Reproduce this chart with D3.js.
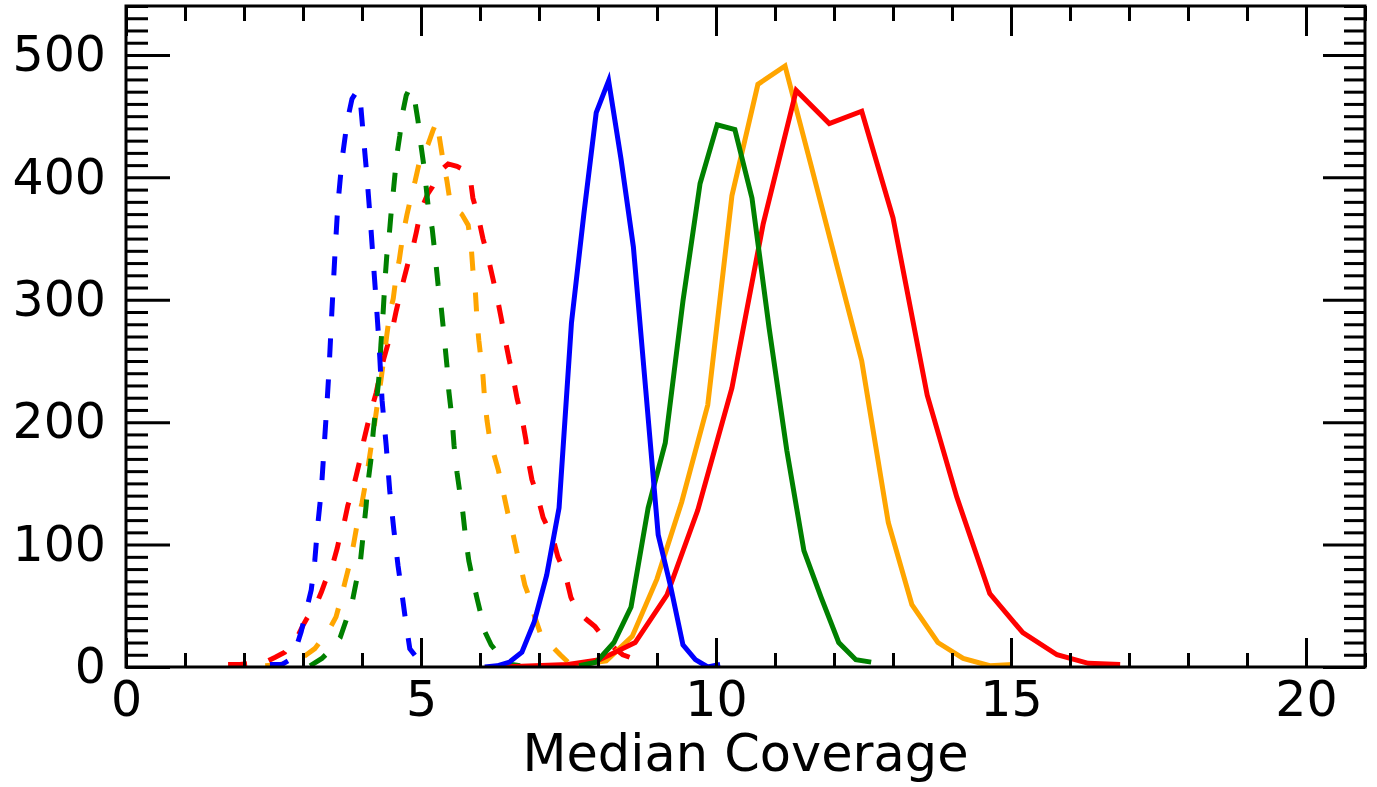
<!DOCTYPE html>
<html>
<head>
<meta charset="utf-8">
<script src="https://cdn.jsdelivr.net/npm/d3@7"></script>
<style>
	body { margin: 0; background: #fff; }
	svg text { font-family: "DejaVu Sans", sans-serif; fill: #000; }
</style>
</head>
<body>
<div id="chart"></div>
<script>
//coverage histograms, solid and dashed runs

//solid curves
var blueSolidX = [6.08, 6.29, 6.50, 6.71, 6.92, 7.13, 7.34, 7.55, 7.76, 7.97, 8.18, 8.39, 8.60, 8.81, 9.02, 9.23, 9.44, 9.65, 9.86, 10.07];
var blueSolidY = [0, 1, 4, 12, 37, 75, 130, 281, 370, 453, 479, 415, 343, 226, 108, 66, 18, 6, 0, 2];

var greenSolidX = [7.68, 7.97, 8.27, 8.56, 8.85, 9.14, 9.44, 9.73, 10.02, 10.32, 10.61, 10.90, 11.20, 11.49, 11.78, 12.08, 12.37, 12.63];
var greenSolidY = [1, 4, 20, 49, 130, 183, 299, 395, 443, 439, 383, 277, 177, 95, 57, 20, 6, 4];

var orangeSolidX = [7.27, 7.69, 8.14, 8.58, 9.00, 9.42, 9.86, 10.27, 10.71, 11.17, 11.61, 12.05, 12.47, 12.92, 13.32, 13.76, 14.19, 14.64, 15.03];
var orangeSolidY = [1, 2, 5, 25, 72, 135, 214, 385, 476, 491, 410, 328, 250, 118, 51, 20, 7, 1, 2];

var redSolidX = [6.37, 6.93, 7.49, 8.03, 8.63, 9.17, 9.69, 10.27, 10.80, 11.36, 11.92, 12.47, 13.00, 13.58, 14.08, 14.64, 15.20, 15.78, 16.31, 16.85];
var redSolidY = [0, 1, 2, 6, 20, 59, 128, 228, 362, 471, 444, 454, 367, 222, 139, 60, 28, 10, 3, 2];

//dashed curves
var blueDashX = [2.44, 2.64, 2.78, 2.88, 2.97, 3.05, 3.14, 3.20, 3.25, 3.31, 3.36, 3.41, 3.44, 3.49, 3.54, 3.59, 3.66, 3.75, 3.83, 3.92,
	3.98, 4.03, 4.08, 4.14, 4.19, 4.24, 4.29, 4.34, 4.41, 4.47, 4.54, 4.61, 4.68, 4.75, 4.81, 4.92, 5.02, 5.20];
var blueDashY = [2, 2, 6, 15, 29, 45, 63, 87, 116, 144, 181, 218, 242, 291, 336, 377, 414, 446, 464, 471,
	458, 430, 403, 366, 332, 299, 263, 218, 181, 144, 112, 83, 59, 34, 15, 8, 4, 2];

var greenDashX = [3.12, 3.32, 3.49, 3.63, 3.73, 3.83, 3.90, 3.97, 4.02, 4.07, 4.10, 4.15, 4.19, 4.24, 4.29, 4.32, 4.36, 4.39, 4.42, 4.46,
	4.49, 4.54, 4.59, 4.64, 4.69, 4.75, 4.81, 4.88, 4.95, 5.00, 5.05, 5.12, 5.19, 5.24, 5.29, 5.34, 5.39, 5.44, 5.47, 5.53,
	5.56, 5.61, 5.66, 5.71, 5.76, 5.81, 5.88, 5.95, 6.02, 6.08, 6.19, 6.29, 6.41, 6.54, 6.68];
var greenDashY = [1, 7, 15, 24, 38, 52, 69, 85, 108, 132, 150, 169, 192, 214, 238, 263, 291, 316, 336, 352,
	369, 393, 418, 434, 453, 467, 473, 467, 446, 426, 409, 377, 358, 336, 312, 295, 271, 246, 226, 201,
	181, 159, 142, 126, 104, 87, 71, 56, 42, 29, 18, 12, 7, 2, 1];

var orangeDashX = [2.36, 2.61, 2.83, 3.03, 3.20, 3.34, 3.46, 3.56, 3.64, 3.71, 3.80, 3.86, 3.93, 4.00, 4.07, 4.12, 4.17, 4.22, 4.27, 4.32,
	4.37, 4.42, 4.47, 4.53, 4.58, 4.63, 4.69, 4.76, 4.83, 4.90, 4.98, 5.12, 5.20, 5.27, 5.32, 5.37, 5.44, 5.49, 5.58, 5.69,
	5.80, 5.85, 5.88, 5.92, 5.95, 5.98, 6.02, 6.05, 6.08, 6.12, 6.17, 6.24, 6.31, 6.39, 6.47, 6.54, 6.63, 6.69, 6.76, 6.85,
	6.92, 7.02, 7.14, 7.24, 7.36, 7.49, 7.69, 7.86];
var orangeDashY = [1, 2, 4, 9, 15, 24, 32, 41, 55, 69, 86, 101, 120, 134, 153, 169, 185, 201, 218, 234,
	252, 271, 289, 301, 320, 332, 352, 369, 384, 397, 414, 427, 438, 446, 430, 415, 397, 381, 374, 370,
	361, 344, 324, 308, 283, 267, 250, 238, 218, 201, 185, 173, 161, 144, 126, 113, 93, 82, 67, 55,
	42, 28, 22, 16, 10, 4, 3, 3];

var redDashX = [1.73, 1.93, 2.14, 2.36, 2.53, 2.69, 2.81, 2.90, 3.00, 3.07, 3.15, 3.24, 3.31, 3.37, 3.44, 3.51, 3.58, 3.63, 3.69, 3.76,
	3.83, 3.90, 3.97, 4.03, 4.10, 4.17, 4.24, 4.31, 4.37, 4.44, 4.51, 4.58, 4.64, 4.71, 4.78, 4.85, 4.92, 4.98, 5.05, 5.12,
	5.19, 5.25, 5.32, 5.46, 5.61, 5.78, 5.83, 5.88, 5.97, 6.05, 6.14, 6.22, 6.29, 6.36, 6.42, 6.49, 6.56, 6.63, 6.71, 6.78,
	6.81, 6.88, 6.98, 7.07, 7.15, 7.22, 7.32, 7.44, 7.54, 7.66, 7.80, 7.95, 8.03, 8.15, 8.29, 8.42, 8.59, 8.76];
var redDashY = [2, 2, 3, 4, 8, 12, 20, 24, 34, 40, 46, 53, 61, 69, 77, 85, 97, 108, 116, 132,
	142, 156, 170, 185, 199, 212, 224, 240, 252, 264, 275, 291, 303, 317, 330, 340, 355, 369, 379, 387,
	392, 399, 405, 411, 409, 405, 401, 383, 368, 350, 334, 317, 302, 285, 269, 252, 237, 219, 204, 185,
	171, 153, 139, 122, 114, 108, 90, 77, 57, 45, 39, 33, 28, 22, 15, 10, 7, 6];

//axis setup
var xDomain = [0, 21];
var yDomain = [0, 540];
var xMajorTicks = [0, 5, 10, 15, 20];
var yMajorTicks = [0, 100, 200, 300, 400, 500];
var xLabel = "Median Coverage";

//draw order: dashed first, then solid
var series = [
	{ x: redDashX, y: redDashY, color: "#ff0000", dashed: true },
	{ x: orangeDashX, y: orangeDashY, color: "#ffa500", dashed: true },
	{ x: greenDashX, y: greenDashY, color: "#008000", dashed: true },
	{ x: blueDashX, y: blueDashY, color: "#0000ff", dashed: true },
	{ x: orangeSolidX, y: orangeSolidY, color: "#ffa500", dashed: false },
	{ x: redSolidX, y: redSolidY, color: "#ff0000", dashed: false },
	{ x: greenSolidX, y: greenSolidY, color: "#008000", dashed: false },
	{ x: blueSolidX, y: blueSolidY, color: "#0000ff", dashed: false }
];

//define dimensions
var width = 1377, height = 787;
var margin = { top: 6, right: 12, bottom: 120, left: 126 };
var w = width - margin.left - margin.right;
var h = height - margin.top - margin.bottom;

var svg = d3.select("#chart").append("svg")
	.attr("width", width)
	.attr("height", height);

var plot = svg.append("g")
	.attr("transform", "translate(" + margin.left + "," + margin.top + ")");

var x = d3.scaleLinear().domain(xDomain).range([0, w]);
var y = d3.scaleLinear().domain(yDomain).range([h, 0]);

//clip the curves to the frame
plot.append("defs").append("clipPath")
	.attr("id", "plotclip")
  .append("rect")
	.attr("width", w)
	.attr("height", h);

var line = d3.line()
	.x(function(d) { return x(d[0]); })
	.y(function(d) { return y(d[1]); });

var curves = plot.append("g").attr("clip-path", "url(#plotclip)");

series.forEach(function(s) {
	var pts = s.x.map(function(v, i) { return [v, s.y[i]]; });
	curves.append("path")
		.datum(pts)
		.attr("d", line)
		.attr("fill", "none")
		.attr("stroke", s.color)
		.attr("stroke-width", 5)
		.attr("stroke-linejoin", "miter")
		.attr("stroke-dasharray", s.dashed ? "19,22" : null);
});

//ticks: minor and major on all four sides, pointing inward
var xMinor = d3.range(xDomain[0], xDomain[1] + 1, 1).filter(function(v) { return xMajorTicks.indexOf(v) < 0; });
var yMinor = d3.range(yDomain[0], yDomain[1] + 1, 10).filter(function(v) { return yMajorTicks.indexOf(v) < 0; });

function styleAxis(g) {
	g.select(".domain").remove();
	g.selectAll(".tick line").attr("stroke", "#000").attr("stroke-width", 3);
	g.selectAll(".tick text").style("font-size", "49px").attr("fill", "#000");
}

plot.append("g").attr("transform", "translate(0," + h + ")")
	.call(d3.axisBottom(x).tickValues(xMinor).tickSize(-14).tickFormat(""))
	.call(styleAxis);
plot.append("g").attr("transform", "translate(0," + h + ")")
	.call(d3.axisBottom(x).tickValues(xMajorTicks).tickSize(-29).tickPadding(14).tickFormat(d3.format("d")))
	.call(styleAxis);

plot.append("g")
	.call(d3.axisTop(x).tickValues(xMinor).tickSize(-15).tickFormat(""))
	.call(styleAxis);
plot.append("g")
	.call(d3.axisTop(x).tickValues(xMajorTicks).tickSize(-30).tickFormat(""))
	.call(styleAxis);

plot.append("g")
	.call(d3.axisLeft(y).tickValues(yMinor).tickSize(-22).tickFormat(""))
	.call(styleAxis);
plot.append("g")
	.call(d3.axisLeft(y).tickValues(yMajorTicks).tickSize(-44).tickPadding(20).tickFormat(d3.format("d")))
	.call(styleAxis);

plot.append("g").attr("transform", "translate(" + w + ",0)")
	.call(d3.axisRight(y).tickValues(yMinor).tickSize(-21).tickFormat(""))
	.call(styleAxis);
plot.append("g").attr("transform", "translate(" + w + ",0)")
	.call(d3.axisRight(y).tickValues(yMajorTicks).tickSize(-42).tickFormat(""))
	.call(styleAxis);

//frame
plot.append("rect")
	.attr("width", w)
	.attr("height", h)
	.attr("fill", "none")
	.attr("stroke", "#000")
	.attr("stroke-width", 3);

//axis title
plot.append("text")
	.attr("x", w / 2)
	.attr("y", h + 104)
	.attr("text-anchor", "middle")
	.style("font-size", "51px")
	.text(xLabel);
</script>
</body>
</html>
